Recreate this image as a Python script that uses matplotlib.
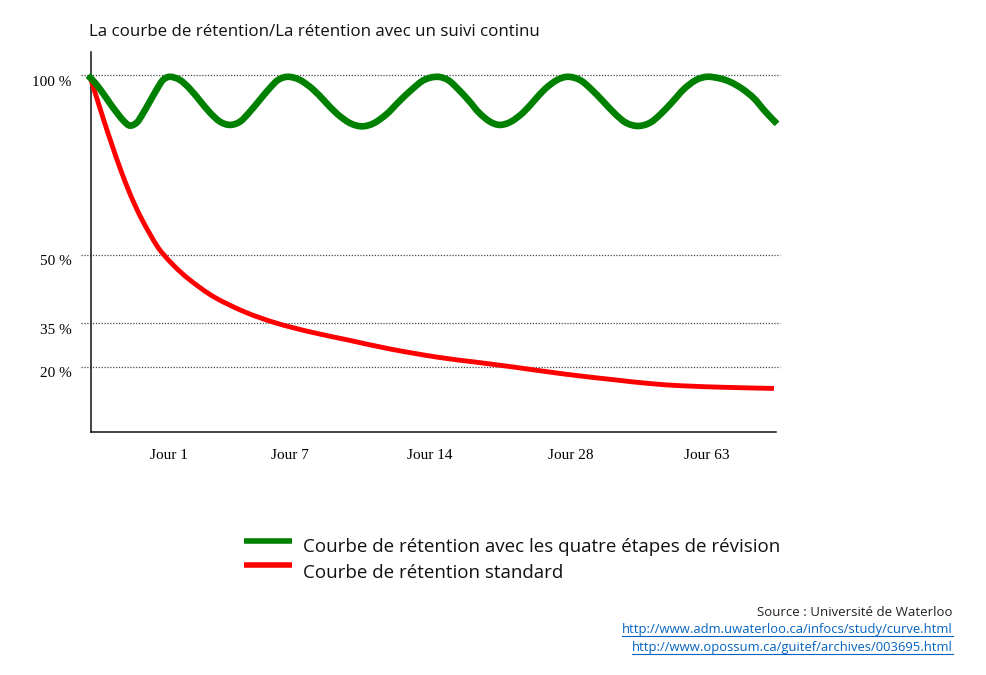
import numpy as np
import matplotlib
matplotlib.use("Agg")
import matplotlib.pyplot as plt
from matplotlib.lines import Line2D
from matplotlib.path import Path
from matplotlib.patches import PathPatch
from matplotlib.transforms import ScaledTranslation

# position along the time axis (0 = axis origin) and retention in %
green_x = [-3, 5, 13, 20, 27, 33, 39, 46, 52, 59, 66, 72, 79,
           89, 99, 109, 119, 129, 139, 149, 158, 168, 178, 187, 197,
           209, 222, 234, 246, 259, 271, 283, 296, 308, 321, 333, 346,
           357, 367, 378, 388, 399, 409, 420, 432, 443, 454, 466, 477,
           489, 500, 512, 524, 535, 547, 559, 570, 582, 593, 605, 616,
           628, 639, 651, 663, 674, 686]
green_y = [100, 97.6, 94.6, 91.8, 89.2, 87.2, 86.0, 86.9, 89.4, 92.8, 96.2, 98.7, 99.6,
           98.7, 96.2, 92.9, 89.6, 87.1, 86.2, 87.1, 89.6, 92.9, 96.2, 98.7, 99.6,
           98.7, 96.1, 92.7, 89.3, 86.7, 85.8, 86.7, 89.3, 92.7, 96.1, 98.7, 99.6,
           98.7, 96.2, 92.9, 89.6, 87.1, 86.2, 87.1, 89.6, 92.9, 96.2, 98.7, 99.6,
           98.7, 96.2, 92.8, 89.3, 86.8, 85.9, 86.8, 89.3, 92.8, 96.2, 98.7, 99.6,
           99.2, 98.2, 96.3, 93.6, 90.0, 86.5]

red_x = [-1, 6, 13, 21, 29, 39, 49, 59, 66, 72, 84, 99, 123, 154, 185,
         219, 257, 299, 346, 384, 422, 474, 525, 559, 592, 639, 683]
red_y = [99.6, 93.5, 87.3, 80.6, 74.2, 67.0, 60.9, 55.8, 52.5, 50.3, 47.4, 44.5,
         40.8, 37.5, 35.1, 32.1, 29.3, 26.2, 23.4, 21.7, 20.0, 17.8, 16.0, 14.9,
         14.2, 13.7, 13.4]

series_labels = ["Courbe de rétention avec les quatre étapes de révision",
                 "Courbe de rétention standard"]
series_colors = ["#008000", "#ff0000"]
day_ticks = [78, 199, 339, 480, 616]
day_labels = ["Jour 1", "Jour 7", "Jour 14", "Jour 28", "Jour 63"]
pct_ticks = [100, 50, 35, 20]
pct_labels = ["100 %", "50 %", "35 %", "20 %"]

title = "La courbe de rétention/La rétention avec un suivi continu"
source = "Source : Université de Waterloo"
links = ["http://www.adm.uwaterloo.ca/infocs/study/curve.html",
         "http://www.opossum.ca/guitef/archives/003695.html"]

# the percent axis of the original drawing is not linear
scale_pct = [0, 20, 35, 50, 100, 120]
scale_pos = [0, 65, 108.5, 177, 356.5, 428.3]


def fwd(v):
    return np.interp(v, scale_pct, scale_pos)


def inv(v):
    return np.interp(v, scale_pos, scale_pct)


def smooth_path(xs, ys):
    # bezier path through the read points (in scaled axis coordinates)
    p = np.column_stack([xs, fwd(np.asarray(ys, dtype=float))])
    ext = np.vstack([p[0], p, p[-1]])
    verts = [p[0]]
    codes = [Path.MOVETO]
    for i in range(len(p) - 1):
        a, b, c, d = ext[i], ext[i + 1], ext[i + 2], ext[i + 3]
        verts += [b + (c - a) / 6, c - (d - b) / 6, c]
        codes += [Path.CURVE4] * 3
    return Path(verts, codes)


sans = ["Open Sans", "DejaVu Sans"]
serif = ["Liberation Serif", "DejaVu Serif"]

W, H = 987, 675
fig = plt.figure(figsize=(W / 100, H / 100), dpi=100)
ax = fig.add_axes([91 / W, 1 - 432 / H, 685 / W, 380 / H])
ax.set_yscale("function", functions=(fwd, inv))
ax.set_xlim(0, 685)
ax.set_ylim(0, 106.5)

for v in pct_ticks:
    ax.axhline(v, xmin=-10 / 685, xmax=689 / 685, color="#444444", lw=0.9,
               ls=(0, (1, 1.3)), clip_on=False, zorder=1)

scaled = ax.transLimits + ax.transAxes
for xs, ys, col, lw, z in [(red_x, red_y, series_colors[1], 3.5, 3),
                           (green_x, green_y, series_colors[0], 4.8, 4)]:
    ax.add_patch(PathPatch(smooth_path(xs, ys), facecolor="none", edgecolor=col,
                           lw=lw, capstyle="butt", joinstyle="round",
                           transform=scaled, clip_on=False, zorder=z))

for s in ["top", "right"]:
    ax.spines[s].set_visible(False)
for s in ["left", "bottom"]:
    ax.spines[s].set_linewidth(1.1)
    ax.spines[s].set_color("#111111")

ax.set_yticks(pct_ticks)
ax.set_yticklabels(pct_labels, fontfamily=serif, fontsize=11)
ax.set_xticks(day_ticks)
ax.set_xticklabels(day_labels, fontfamily=serif, fontsize=11)
ax.tick_params(axis="y", length=0, pad=14)
ax.tick_params(axis="x", length=0, pad=12)
ax.minorticks_off()
shift = ScaledTranslation(0, -0.055, fig.dpi_scale_trans)
for lab in ax.get_yticklabels():
    lab.set_transform(lab.get_transform() + shift)

fig.text(89 / W, 1 - 32 / H, title, fontfamily=sans, fontsize=12.2,
         ha="left", va="center", color="#111111")

# legend
for col, ly, ty, lab in zip(series_colors, [541, 565], [547, 573], series_labels):
    fig.add_artist(Line2D([244 / W, 292 / W], [1 - ly / H, 1 - ly / H],
                          color=col, lw=4, solid_capstyle="butt"))
    fig.text(303 / W, 1 - ty / H, lab, fontfamily=sans, fontsize=13.5,
             ha="left", va="center", color="#111111")

fig.text(953 / W, 1 - 612 / H, source, fontfamily=sans, fontsize=9.5,
         ha="right", va="center", color="#222222")
link_texts = []
for ly, url in zip([630, 648], links):
    link_texts.append(fig.text(953 / W, 1 - ly / H, url, fontfamily=sans,
                               fontsize=9.4, ha="right", va="center", color="#0563c1"))

fig.canvas.draw()
renderer = fig.canvas.get_renderer()
for t, uy in zip(link_texts, [636, 654]):
    bb = t.get_window_extent(renderer)
    fig.add_artist(Line2D([bb.x0 / W, bb.x1 / W], [1 - uy / H, 1 - uy / H],
                          color="#0563c1", lw=0.8))

fig.savefig("out.png", dpi=100)
